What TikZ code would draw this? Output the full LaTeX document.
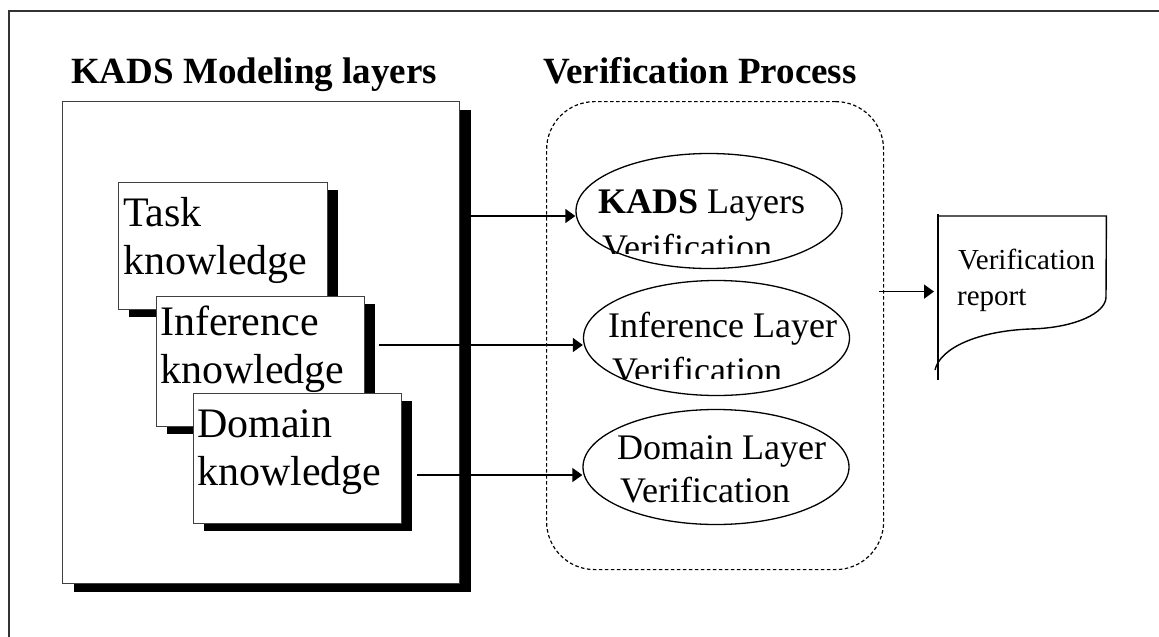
\documentclass[tikz,border=0pt]{standalone}
\usepackage{fontspec}
\setmainfont{Liberation Serif}
\usetikzlibrary{shapes.geometric,shadows,arrows.meta}
\tikzset{
  frameline/.style={draw=black!80, line width=1.6pt},
  ttl/.style={anchor=base west, inner sep=0pt, font=\fontsize{37}{42}\selectfont\bfseries},
  laybox/.style={draw=black!75, line width=1.2pt, fill=white, inner sep=0pt, anchor=north west},
  smallsh/.style={drop shadow={shadow xshift=10pt, shadow yshift=-7pt, fill=black, opacity=1}},
  bigsh/.style={drop shadow={shadow xshift=11pt, shadow yshift=-8pt, fill=black, opacity=1}},
  ktxt/.style={anchor=base west, inner sep=0pt, font=\fontsize{42}{48}\selectfont},
  etxt/.style={anchor=base west, inner sep=0pt, font=\fontsize{36}{42}\selectfont},
  rtxt/.style={anchor=base west, inner sep=0pt, font=\fontsize{29}{34}\selectfont},
  procbox/.style={draw=black, line width=1.2pt, dash pattern=on 3.5pt off 2.5pt, rounded corners=48pt, inner sep=0pt, anchor=north west},
  ell/.style={ellipse, draw=black, line width=1.3pt, inner sep=0pt, minimum width=266pt, minimum height=115pt},
  arr/.style={line width=1.6pt, -{Triangle[length=10pt,width=14pt]}},
  docline/.style={draw=black, line width=1.4pt}
}
\begin{document}
\begin{tikzpicture}[x=1pt,y=-1pt]
\useasboundingbox (0,0) rectangle (1159,637);
% outer frame
\draw[frameline] (9,645) -- (9,11) -- (1165,11);
% titles
\node[ttl] (t1) at (71,83) {KADS Modeling layers};
\node[ttl] (t2) at (543,83) {Verification Process};
% KADS big box
\node[laybox, bigsh, minimum width=397pt, minimum height=482pt] (kads) at (62,101) {};
% task
\node[laybox, smallsh, minimum width=209pt, minimum height=127pt] (task) at (118,182) {};
\node[ktxt] (taskA) at (123,226) {Task};
\node[ktxt] (taskB) at (123,274) {knowledge};
% inference
\node[laybox, smallsh, minimum width=208pt, minimum height=130pt] (inf) at (156,296) {};
\node[ktxt] (infA) at (160,335) {Inference};
\node[ktxt] (infB) at (160,383) {knowledge};
% domain
\node[laybox, smallsh, minimum width=208pt, minimum height=130pt] (dom) at (193,393) {};
\node[ktxt] (domA) at (197,437) {Domain};
\node[ktxt] (domB) at (197,485) {knowledge};
% verification process
\node[procbox, minimum width=337pt, minimum height=468pt] (proc) at (546,101) {};
\node[ell] (e1) at (709,211) {};
\node[ell] (e2) at (716.5,338) {};
\node[ell] (e3) at (716,467) {};
\begin{scope}
  \clip (570,150) rectangle (850,253);
  \node[etxt] (e1a) at (598,213) {\textbf{KADS} Layers};
  \node[etxt] (e1b) at (602,259) {Verification};
\end{scope}
\begin{scope}
  \clip (570,280) rectangle (847,378);
  \node[etxt] (e2a) at (608,337) {Inference Layer};
  \node[etxt] (e2b) at (612,382) {Verification};
\end{scope}
\node[etxt] (e3a) at (617,459) {Domain Layer};
\node[etxt] (e3b) at (620,502) {Verification};
% report document
\node[inner sep=0pt, minimum width=168pt, minimum height=164pt, anchor=north west] (report) at (938,216) {};
\draw[docline] ([yshift=2pt]report.north west) -- (report.south west);
\draw[docline] (report.north west) -- (report.north east) -- (1106,297)
  .. controls (1106,313) and (1075,328) .. (1030,329)
  .. controls (978,331) and (940,348) .. (935,370);
\node[rtxt] (r1) at (958,269) {Verification};
\node[rtxt] (r2) at (957,305) {report};
% arrows
\draw[arr] ([xshift=11pt,yshift=-5pt]kads.east |- e1.west) -- ([yshift=-5pt]e1.west);
\draw[arr] ([xshift=14pt,yshift=-7pt]inf.east |- e2.west) -- ([yshift=-7pt]e2.west);
\draw[arr] ([xshift=15pt,yshift=-8pt]dom.east |- e3.west) -- ([yshift=-8pt]e3.west);
\draw[arr, shorten >=4pt] ([xshift=-5pt,yshift=44pt]proc.east) -- ([yshift=44pt]proc.east -| report.west);
\end{tikzpicture}
\end{document}
